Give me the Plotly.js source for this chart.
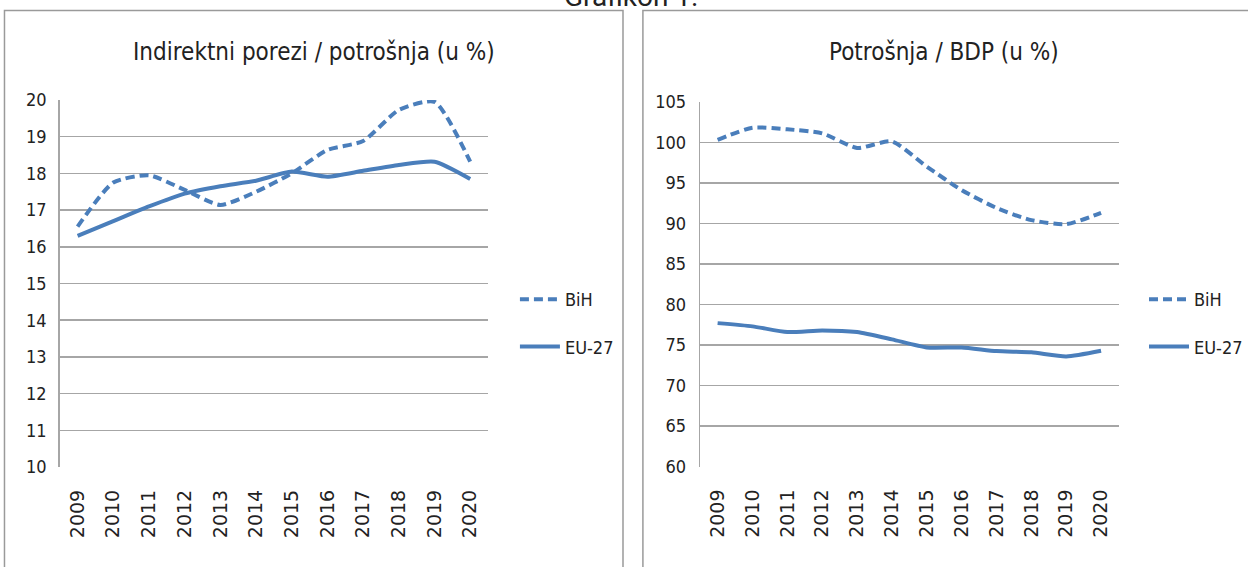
<!DOCTYPE html>
<html>
<head>
<meta charset="utf-8">
<script src="https://cdn.plot.ly/plotly-3.0.1.min.js"></script>
<style>html,body{margin:0;padding:0;background:#fff;}#chart{width:1248px;height:567px;}</style>
</head>
<body>
<div id="chart"></div>
<script>
const years = ['2009','2010','2011','2012','2013','2014','2015','2016','2017','2018','2019','2020'];
const bihTax = [16.55, 17.75, 17.95, 17.55, 17.14, 17.5, 18.0, 18.64, 18.88, 19.73, 19.95, 18.32];
const euTax  = [16.3, 16.7, 17.1, 17.45, 17.65, 17.8, 18.05, 17.91, 18.07, 18.23, 18.32, 17.85];
const bihCons = [100.3, 101.8, 101.6, 101.1, 99.3, 100.1, 97.0, 94.1, 91.9, 90.4, 89.9, 91.3];
const euCons  = [77.7, 77.3, 76.6, 76.8, 76.6, 75.7, 74.7, 74.7, 74.25, 74.1, 73.6, 74.3];
const seriesNames = ['BiH', 'EU-27'];
const titles = ['Indirektni porezi / potrošnja (u %)', 'Potrošnja / BDP (u %)'];
const figTitle = 'Grafikon 1.';

const W = 1248, H = 567;
const px = v => v / W;
const py = v => 1 - v / H;
const blue = '#4a7ebb';
const narrow = '"Liberation Sans Narrow", "DejaVu Sans Condensed", "Arial Narrow", sans-serif';
const wide = '"DejaVu Sans", Verdana, sans-serif';

function trace(y, name, dash, xa, ya, legend) {
  return {
    x: years, y: y, name: name, type: 'scatter', mode: 'lines',
    xaxis: xa, yaxis: ya, legend: legend, legendgroup: legend + name,
    line: {color: blue, width: 4, dash: dash, shape: 'spline', smoothing: 0.6},
    hoverinfo: 'skip'
  };
}

const data = [
  trace(bihTax, seriesNames[0], '9px,5px', 'x', 'y', 'legend'),
  trace(euTax, seriesNames[1], 'solid', 'x', 'y', 'legend'),
  trace(bihCons, seriesNames[0], '9px,5px', 'x2', 'y2', 'legend2'),
  trace(euCons, seriesNames[1], 'solid', 'x2', 'y2', 'legend2')
];

const gridColor = '#a6a6a6';
function xax(d0, d1, anchor) {
  return {domain: [px(d0), px(d1)], anchor: anchor, type: 'category', range: [-0.5, 11.5],
    tickangle: -90, tickfont: {family: wide, size: 19, color: '#222'}, showgrid: false,
    showline: false, ticks: '', ticklen: 0, ticklabelstandoff: 18, zeroline: false, fixedrange: true};
}
function yax(top, bot, r, dt, anchor, standoff) {
  return {domain: [py(bot), py(top)], anchor: anchor, range: r, dtick: dt, tick0: r[0],
    showgrid: true, gridcolor: gridColor, gridwidth: 1.5, showline: true, linecolor: gridColor, linewidth: 1.5,
    ticks: '', ticklabelstandoff: standoff, tickfont: {family: narrow, size: 18, color: '#222'},
    zeroline: false, fixedrange: true};
}

function legendAt(x, y) {
  return {x: px(x), y: py(y), xanchor: 'left', yanchor: 'top', bgcolor: 'rgba(0,0,0,0)',
    font: {family: narrow, size: 18, color: '#222'}, traceorder: 'grouped', tracegroupgap: 21,
    itemwidth: 40};
}

const layout = {
  width: W, height: H, margin: {l: 0, r: 0, t: 0, b: 0},
  paper_bgcolor: '#fff', plot_bgcolor: '#fff', showlegend: true,
  xaxis: xax(60, 490, 'y'),
  yaxis: yax(100, 467, [10, 20], 1, 'x', 8),
  xaxis2: xax(703, 1123, 'y2'),
  yaxis2: yax(101.7, 466.7, [60, 105], 5, 'x2', 9),
  legend: legendAt(517, 281),
  legend2: legendAt(1149, 281),
  shapes: [
    {type: 'rect', xref: 'paper', yref: 'paper', x0: px(4.5), x1: px(625.5), y0: py(600), y1: py(10.5),
      line: {color: '#9a9a9a', width: 1.5}, fillcolor: 'rgba(0,0,0,0)', layer: 'below'},
    {type: 'rect', xref: 'paper', yref: 'paper', x0: px(645.5), x1: px(1300), y0: py(600), y1: py(10.5),
      line: {color: '#9a9a9a', width: 1.5}, fillcolor: 'rgba(0,0,0,0)', layer: 'below'}
  ],
  annotations: [
    {text: titles[0], xref: 'paper', yref: 'paper', x: px(315), y: py(52), xanchor: 'center', yanchor: 'middle',
      showarrow: false, font: {family: narrow, size: 24, color: '#222'}},
    {text: titles[1], xref: 'paper', yref: 'paper', x: px(948), y: py(52), xanchor: 'center', yanchor: 'middle',
      showarrow: false, font: {family: narrow, size: 24, color: '#222'}},
    {text: figTitle, xref: 'paper', yref: 'paper', x: px(634), y: py(-4), xanchor: 'center', yanchor: 'middle',
      showarrow: false, font: {family: 'Roboto, sans-serif', size: 28, color: '#222'}}
  ]
};

Plotly.newPlot('chart', data, layout, {displayModeBar: false, staticPlot: true});
</script>
</body>
</html>
